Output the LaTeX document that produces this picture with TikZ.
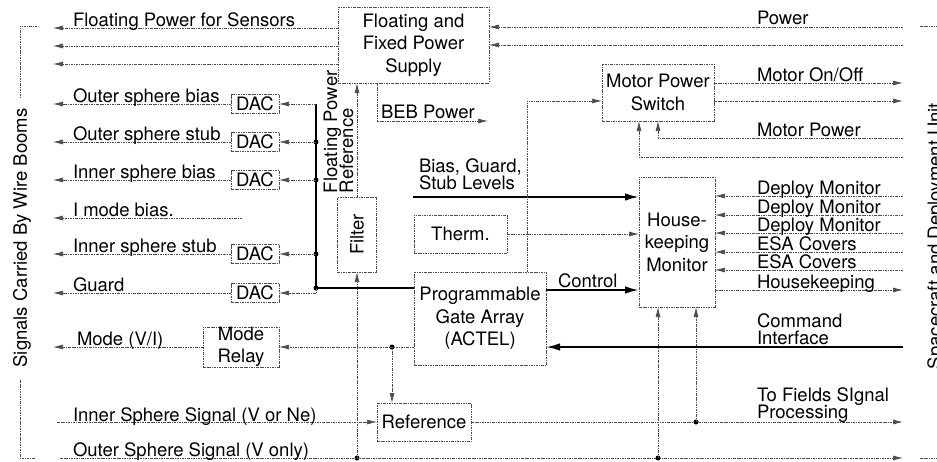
\documentclass[tikz,border=0pt]{standalone}
\usepackage{fontspec}
\setmainfont{TeX Gyre Heros}
\usetikzlibrary{arrows.meta}
\begin{document}
\begin{tikzpicture}[x=1pt,y=-1pt,
  every node/.style={inner sep=0pt, outer sep=0pt, font=\fontsize{18.5}{22.5}\selectfont},
  dl/.style={draw=black!70, line width=0.7pt, dash pattern=on 2.5pt off 1pt on 0.8pt off 1pt},
  box/.style={dl, rectangle, align=center},
  arr/.style={dl, -{Latex[length=10pt,width=5pt]}},
  thk/.style={draw=black, line width=2pt},
  tarr/.style={thk, -{Latex[length=14pt,width=7.5pt]}},
  lbl/.style={anchor=base west},
  dot/.style={circle, fill=black, minimum size=5pt, inner sep=0pt},
]
\useasboundingbox (0,0) rectangle (937,461);

% reference x positions
\coordinate (xl) at (53,0);
\coordinate (xr) at (903,0);

% boxes
\node[box, minimum width=151pt, minimum height=76pt] (ps) at (413.5,45) {Floating and\\Fixed Power\\Supply};
\node[box, minimum width=112pt, minimum height=57pt] (mps) at (658,92.5) {Motor Power\\Switch};
\node[box, minimum width=39pt, minimum height=75pt] (filt) at (357,234.5) {};
\node[rotate=90] (filtt) at (filt.center) {Filter};
\node[box, minimum width=93pt, minimum height=38pt] (therm) at (460.5,234) {Therm.};
\node[box, minimum width=132pt, minimum height=93pt] (pga) at (480,318.5) {Programmable\\Gate Array\\(ACTEL)};
\node[box, minimum width=76pt, minimum height=130pt] (hk) at (677,242) {House-\\keeping\\Monitor};
\node[box, minimum width=94pt, minimum height=38pt] (ref) at (424,422) {Reference};
\node[box, minimum width=76pt, minimum height=38pt] (relay) at (241,347) {Mode\\Relay};
\node[box, minimum width=48pt, minimum height=19pt] (dac1) at (255,104) {DAC};
\node[box, minimum width=48pt, minimum height=19pt] (dac2) at (255,142) {DAC};
\node[box, minimum width=48pt, minimum height=19pt] (dac3) at (255,180) {DAC};
\node[box, minimum width=48pt, minimum height=19pt] (dac4) at (255,254) {DAC};
\node[box, minimum width=48pt, minimum height=19pt] (dac5) at (255,293) {DAC};

% power supply lines
\coordinate (L1) at (53,28);
\coordinate (L2) at (53,46);
\coordinate (L3) at (53,64);
\draw[arr] (ps.west |- L1) -- (L1);
\draw[arr] (ps.west |- L2) -- (L2);
\draw[arr] (ps.west |- L3) -- (L3);
\coordinate (R1) at (903,27);
\coordinate (R2) at (903,45);
\draw[arr] (R1) -- (R1 -| ps.east);
\draw[arr] (R2) -- (R2 -| ps.east);
\coordinate (bebA) at (377,121);
\coordinate (beb) at (488,121);
\draw[arr] (bebA |- ps.south) -- (bebA) -- (beb);

% filter
\draw[arr] (filt.north) -- (filt.north |- ps.south);
\node[dot] (d357) at (357,458) {};
\draw[arr] (d357.center) -- (filt.south);

% bus and DACs
\coordinate (b0) at (316,104);
\node[dot] (b2) at (316,142) {};
\node[dot] (b3) at (316,180) {};
\node[dot] (b4) at (316,254) {};
\node[dot] (bc) at (316,288) {};
\coordinate (bg) at (316,293);
\draw[thk] (b0) -- (bc.center) -- (bc.center -| pga.west);
\draw[arr] (b0) -- (dac1.east);
\draw[arr] (b2.center) -- (dac2.east);
\draw[arr] (b3.center) -- (dac3.east);
\draw[arr] (b4.center) -- (dac4.east);
\draw[arr] (bc.center) -- (bg) -- (dac5.east);
\foreach \d in {dac1,dac2,dac3,dac4,dac5} {\draw[arr] (\d.west) -- (\d.west -| xl);}
\coordinate (im) at (242,218);
\draw[arr] (im) -- (im -| xl);

% mode relay and reference
\node[dot] (md) at (392,347) {};
\draw[arr] (pga.west |- md.center) -- (relay.east);
\draw[arr] (relay.west) -- (relay.west -| xl);
\draw[arr] (md.center) -- (md.center |- ref.north);
\coordinate (is) at (57,422);
\draw[arr] (is) -- (ref.west);
\draw[arr] (ref.east) -- (ref.east -| xr);
\node[dot] (hd2) at (696,422) {};
\draw[arr] (hd2.center) -- (hd2.center |- hk.south);
\coordinate (os) at (60,458);
\draw[arr] (os) -- (os -| xr);
\node[dot] (hd1) at (658,458) {};
\draw[arr] (hd1.center) -- (hd1.center |- hk.south);

% thick connections
\coordinate (ci) at (903,347);
\draw[tarr] (ci) -- (ci -| pga.east);
\coordinate (ctl) at (600,290);
\draw[tarr] (pga.east |- ctl) -- (ctl -| hk.west);
\coordinate (bl) at (413,197);
\draw[tarr] (bl) -- (bl -| hk.west);
\draw[arr] (therm.east) -- (therm.east -| hk.west);

% motor power switch
\coordinate (pm) at (527,101);
\draw[arr] (pm |- pga.north) -- (pm) -- (pm -| mps.west);
\coordinate (mo1) at (903,83);
\coordinate (mo2) at (903,101);
\draw[arr] (mo1 -| mps.east) -- (mo1);
\draw[arr] (mo2 -| mps.east) -- (mo2);
\coordinate (mp1) at (903,138);
\coordinate (mpc1) at (658,138);
\draw[arr] (mp1) -- (mpc1) -- (mpc1 |- mps.south);
\coordinate (mp2) at (903,157);
\coordinate (mpc2) at (639,157);
\draw[arr] (mp2) -- (mpc2) -- (mpc2 |- mps.south);

% housekeeping inputs/outputs
\foreach \n/\yy in {1/196,2/215,3/233,4/252,5/270} {
  \coordinate (h\n) at (903,\yy);
  \draw[arr] (h\n) -- (h\n -| hk.east);
}
\coordinate (h6) at (903,290);
\draw[arr] (h6 -| hk.east) -- (h6);

% left labels
\node[lbl] (t1) at (73,26) {Floating Power for Sensors};
\node[lbl] (t2) at (73,102) {Outer sphere bias};
\node[lbl] (t3) at (73,140) {Outer sphere stub};
\node[lbl] (t4) at (73,178) {Inner sphere bias};
\node[lbl] (t5) at (73,216) {I mode bias.};
\node[lbl] (t6) at (73,252) {Inner sphere stub};
\node[lbl] (t7) at (73,291) {Guard};
\node[lbl] (t8) at (77,345) {Mode (V/I)};
\node[lbl] (t9) at (73,421) {Inner Sphere Signal (V or Ne)};
\node[lbl] (t10) at (73,456) {Outer Sphere Signal (V only)};

% middle labels
\node[lbl] (tbeb) at (381,118) {BEB Power};
\node[lbl] (tbg1) at (419,172) {Bias, Guard,};
\node[lbl] (tbg2) at (419,189) {Stub Levels};
\node[lbl] (tctl) at (558,287) {Control};
\node[rotate=90, anchor=base west] (tfp1) at (337,193) {Floating Power};
\node[rotate=90, anchor=base west] (tfp2) at (353,193) {Reference};

% right labels
\node[lbl] (r1) at (757,24) {Power};
\node[lbl] (r2) at (757,81) {Motor On/Off};
\node[lbl] (r3) at (757,136) {Motor Power};
\node[lbl] (r4) at (757,194) {Deploy Monitor};
\node[lbl] (r5) at (757,213) {Deploy Monitor};
\node[lbl] (r6) at (757,231) {Deploy Monitor};
\node[lbl] (r7) at (757,250) {ESA Covers};
\node[lbl] (r8) at (757,268) {ESA Covers};
\node[lbl] (r9) at (757,288) {Housekeeping};
\node[lbl] (r10) at (757,327) {Command};
\node[lbl] (r11) at (757,344) {Interface};
\node[lbl] (r12) at (757,401) {To Fields SIgnal};
\node[lbl] (r13) at (757,418) {Processing};

% side brackets
\node[rotate=90, anchor=base] (lt) at (27,238) {Signals Carried By Wire Booms};
\coordinate (lb1) at (37,26);
\coordinate (lb2) at (20,26);
\coordinate (lb3) at (20,98);
\coordinate (lb4) at (20,380);
\coordinate (lb5) at (20,458);
\coordinate (lb6) at (35,458);
\draw[dl] (lb1) -- (lb2) -- (lb3);
\draw[dl] (lb4) -- (lb5) -- (lb6);
\node[rotate=90, anchor=base] (rt) at (941,236) {Spacecraft and Deployment Unit};
\coordinate (rb1) at (920,26);
\coordinate (rb2) at (937,26);
\coordinate (rb3) at (920,458);
\coordinate (rb4) at (937,458);
\draw[dl] (rb1) -- (rb2);
\draw[dl] (rb3) -- (rb4);
\end{tikzpicture}
\end{document}
